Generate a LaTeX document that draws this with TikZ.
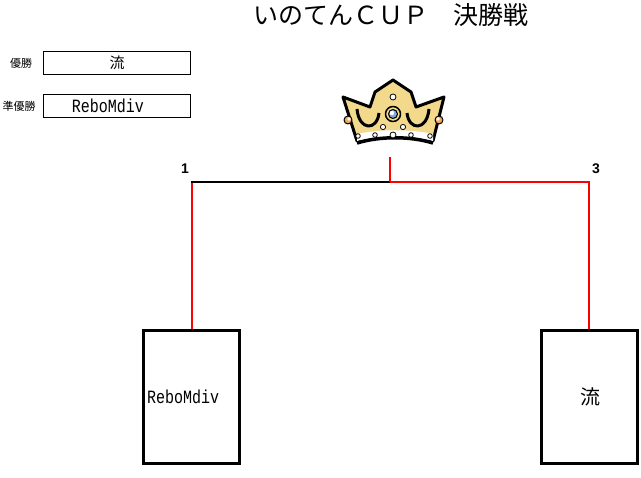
\documentclass[tikz,border=0pt]{standalone}
\usepackage{fontspec}
\setmainfont{Noto Sans CJK JP}
\newfontfamily\jpfont{Noto Sans CJK JP}
\newfontfamily\monofnt{Liberation Mono}
\newfontfamily\numfont{Liberation Sans}
\definecolor{crownfill}{HTML}{F3D98B}
\definecolor{gemblue}{HTML}{7FA8E0}
\definecolor{gemorange}{HTML}{F2A65A}
\tikzset{
  bigbox/.style={draw=black,line width=3pt,minimum width=96pt,minimum height=133pt,inner sep=0pt},
  topbox/.style={draw=black,line width=1pt,minimum width=147pt,minimum height=23pt,inner sep=0pt},
  redline/.style={draw=red,line width=2pt},
  blkline/.style={draw=black,line width=2pt},
  lbl/.style={inner sep=0pt},
  mono/.style={inner sep=0pt,font=\monofnt\fontsize{15}{15}\selectfont},
}
\begin{document}
\begin{tikzpicture}[x=1pt,y=-1pt]
\useasboundingbox (0,0) rectangle (641,478);
% title
\node[lbl,font=\jpfont\fontsize{25}{25}\selectfont] (title) at (391,15) {いのてんＣＵＰ　決勝戦};
% winner boxes
\node[lbl,font=\jpfont\fontsize{11}{11}\selectfont] (l1) at (21,63) {優勝};
\node[topbox] (w1) at (117,63) {};
\node[lbl,font=\jpfont\fontsize{15}{15}\selectfont] (w1t) at (117,63) {流};
\node[lbl,font=\jpfont\fontsize{11}{11}\selectfont] (l2) at (19,106) {準優勝};
\node[topbox] (w2) at (117,106) {};
\node[mono] (w2t) at (108,106) {\scalebox{1}[1.25]{ReboMdiv}};
% crown
\begin{scope}[line join=round]
\draw[fill=crownfill,line width=3pt] (343,97) -- (370,107) -- (375,92) -- (393,80) -- (411,92) -- (416,107) -- (444,97) -- (433,141) .. controls (410,136) and (380,136) .. (357,141) -- cycle;
\fill[white] (357,134) .. controls (380,129) and (410,129) .. (433,134) -- (433,141) .. controls (410,136) and (380,136) .. (357,141) -- cycle;
\draw[line width=3.5pt] (357,143) .. controls (380,136) and (410,136) .. (433,143);
\draw[line width=3pt] (357,109) .. controls (359,131) and (377,131) .. (379,113);
\draw[line width=3pt] (407,113) .. controls (409,131) and (427,131) .. (429,109);
\draw[line width=1.5pt,fill=crownfill] (393,114) circle (7.5);
\draw[line width=1pt,fill=gemblue] (393,114) circle (4.5);
\fill[white] (392,113) circle (2.2);
\draw[line width=0.8pt,fill=white] (393,97) circle (3);
\draw[line width=0.8pt,fill=white] (383,127) circle (2.6);
\draw[line width=0.8pt,fill=white] (403,127) circle (2.6);
\draw[line width=0.8pt,fill=white] (393,135) circle (3);
\draw[line width=0.8pt,fill=white] (375,135) circle (2.3);
\draw[line width=0.8pt,fill=white] (411,135) circle (2.3);
\draw[line width=0.8pt,fill=white] (358,136) circle (2.3);
\draw[line width=0.8pt,fill=white] (430,136) circle (2.3);
\draw[line width=1pt,fill=gemorange] (348,120) circle (4);
\draw[line width=1pt,fill=gemorange] (439,120) circle (4);
\fill[white] (349,119) circle (1.8);
\fill[white] (438,119) circle (1.8);
\end{scope}
% bracket boxes
\node[bigbox] (lbox) at (191.5,397) {};
\node[mono,anchor=west,font=\monofnt\fontsize{15}{15}\selectfont] (ltext) at (147,397) {\scalebox{1}[1.25]{ReboMdiv}};
\node[bigbox] (rbox) at (589.5,397) {};
\node[lbl,font=\jpfont\fontsize{20}{20}\selectfont] (rtext) at (590,397) {流};
% bracket lines
\coordinate (lc) at (192,182);
\coordinate (jn) at (390,182);
\coordinate (rc) at (589,182);
\coordinate (tp) at (390,157);
\draw[redline] (lbox.north -| lc) -- (lc);
\draw[blkline,line cap=rect] (lc) -- (jn);
\draw[redline] (jn) -- (rc) -- (rbox.north -| rc);
\draw[redline] (jn) -- (tp);
% seed numbers
\node[lbl,font=\numfont\bfseries\fontsize{14}{14}\selectfont] (n1) at (185,169) {1};
\node[lbl,font=\numfont\bfseries\fontsize{14}{14}\selectfont] (n3) at (596,169) {3};
\end{tikzpicture}
\end{document}
